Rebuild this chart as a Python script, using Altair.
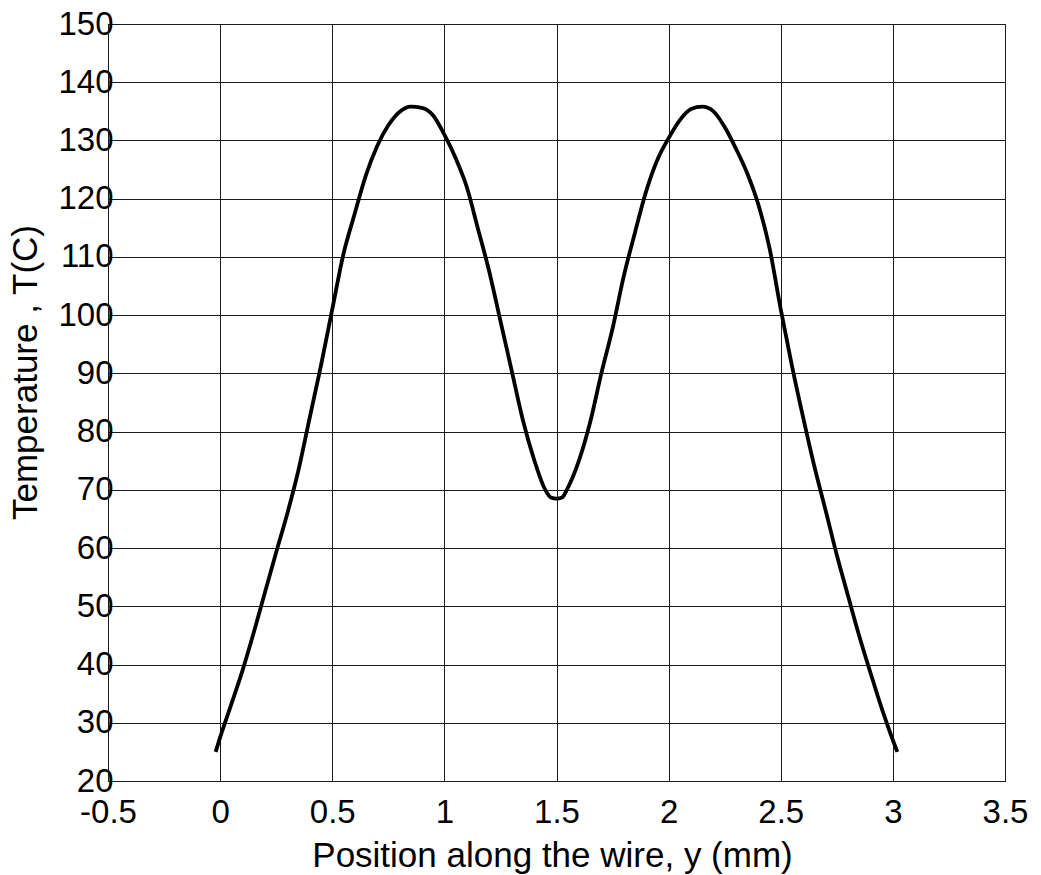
import altair as alt
import pandas as pd

x_mm = [-0.02, 0.0, 0.05, 0.1, 0.15, 0.2, 0.25, 0.3, 0.35, 0.4, 0.45, 0.5,
        0.55, 0.6, 0.65, 0.7, 0.75, 0.8, 0.85, 0.9, 0.95, 1.0, 1.05, 1.1,
        1.15, 1.2, 1.25, 1.3, 1.35, 1.4, 1.45, 1.475, 1.5, 1.525, 1.55, 1.6,
        1.65, 1.7, 1.75, 1.8, 1.85, 1.9, 1.95, 2.0, 2.05, 2.1, 2.15, 2.2,
        2.25, 2.3, 2.35, 2.4, 2.45, 2.5, 2.55, 2.6, 2.65, 2.7, 2.75, 2.8,
        2.85, 2.9, 2.95, 3.0, 3.02]
temp_c = [25, 27.5, 33.2, 39, 45.5, 52.4, 59.3, 66, 73.5, 82.5, 91.4, 101,
          110.5, 117.4, 124, 129, 132.6, 134.9, 135.8, 135.6, 134.3, 131, 127, 122,
          114.8, 107.5, 99, 90.5, 82, 75.2, 70, 68.7, 68.5, 68.7, 70.3, 75,
          81.6, 90, 97.7, 106.7, 114.2, 121.3, 126.7, 130.4, 133.5, 135.4, 135.8, 135,
          132.3, 128.6, 124.4, 119, 111.5, 101, 91.3, 82.4, 74, 66.5, 58.8, 51.8,
          44.9, 38.6, 32.5, 27, 25]

x_ticks = [-0.5, 0, 0.5, 1, 1.5, 2, 2.5, 3, 3.5]
y_ticks = [20, 30, 40, 50, 60, 70, 80, 90, 100, 110, 120, 130, 140, 150]

df = pd.DataFrame({"x": x_mm, "T": temp_c})

FONT = "Liberation Sans"
GRID = "#1a1a1a"
label_expr = "datum.value < 0 ? '-' + format(-datum.value, '~g') : format(datum.value, '~g')"

chart = alt.Chart(df).mark_line(color="black", strokeWidth=3.8, interpolate="monotone").encode(
    x=alt.X("x:Q",
            scale=alt.Scale(domain=[-0.5, 3.5], nice=False, zero=False),
            axis=alt.Axis(values=x_ticks, title="Position along the wire, y (mm)",
                          labelExpr=label_expr, labelFontSize=33, labelFont=FONT,
                          labelColor="black", labelPadding=15, tickSize=0,
                          labelOverlap=False, labelFlush=False,
                          titleFont=FONT, titleFontSize=35, titleFontWeight="normal",
                          titleColor="black", titleX=444, titleY=85,
                          titleAlign="center", titleBaseline="alphabetic",
                          grid=True, gridColor=GRID, gridWidth=1,
                          domainColor=GRID, domainWidth=1)),
    y=alt.Y("T:Q",
            scale=alt.Scale(domain=[20, 150], nice=False, zero=False),
            axis=alt.Axis(values=y_ticks, title="Temperature , T(C)",
                          labelFontSize=33, labelFont=FONT, labelColor="black",
                          labelPadding=-5, tickSize=0, labelOverlap=False,
                          labelFlush=False,
                          titleFont=FONT, titleFontSize=35, titleFontWeight="normal",
                          titleColor="black", titleAngle=270, titleX=-72, titleY=348,
                          titleAlign="center", titleBaseline="alphabetic",
                          grid=True, gridColor=GRID, gridWidth=1,
                          domainColor=GRID, domainWidth=1)),
).properties(
    width=897, height=757,
    autosize=alt.AutoSizeParams(type="none"),
    padding={"left": 108, "top": 24, "right": 36, "bottom": 94},
    background="white",
).configure_view(stroke=GRID, strokeWidth=1)

chart.save("out.html", embed_options={"renderer": "svg", "actions": False})
